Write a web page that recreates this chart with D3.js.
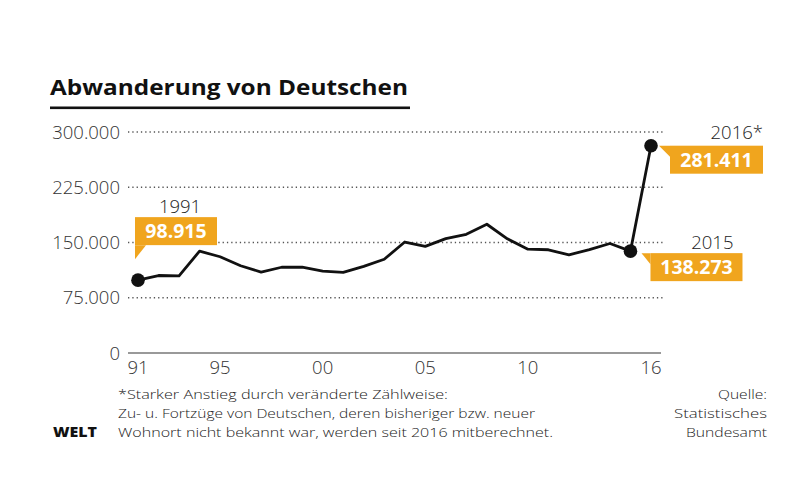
<!DOCTYPE html>
<html><head><meta charset="utf-8">
<script src="https://cdn.jsdelivr.net/npm/d3@7"></script>
<style>
html,body{margin:0;padding:0;background:#fff;}
svg{display:block;font-family:"Open Sans",Lato,sans-serif;}
</style></head>
<body>
<svg id="c" width="809" height="480"></svg>
<script>
const years = [1991,1992,1993,1994,1995,1996,1997,1998,1999,2000,2001,2002,2003,2004,2005,2006,2007,2008,2009,2010,2011,2012,2013,2014,2015,2016];
const values = [98915,105171,104653,138280,130672,118430,109903,116403,116410,111244,109507,117683,127267,150667,144815,155290,161105,174759,154988,141000,140132,133232,140282,148636,138273,281411];
const yTicks = [0,75000,150000,225000,300000];
const yTickLabels = ["0","75.000","150.000","225.000","300.000"];
const xTicks = [1991,1995,2000,2005,2010,2016];
const xTickLabels = ["91","95","00","05","10","16"];
const callouts = [
  {year:1991, value:98915, label:"98.915", yearLabel:"1991"},
  {year:2015, value:138273, label:"138.273", yearLabel:"2015"},
  {year:2016, value:281411, label:"281.411", yearLabel:"2016*"}
];
const title = "Abwanderung von Deutschen";
const footnote = ["*Starker Anstieg durch veränderte Zählweise:",
  "Zu- u. Fortzüge von Deutschen, deren bisheriger bzw. neuer",
  "Wohnort nicht bekannt war, werden seit 2016 mitberechnet."];
const source = ["Quelle:","Statistisches","Bundesamt"];

const ORANGE = "#f0a51e";
const svg = d3.select("#c");
const x = d3.scaleLinear().domain([1991,2016]).range([138,651]);
const y = d3.scaleLinear().domain([0,300000]).range([353,132]);

// title
svg.append("text").attr("x",50).attr("y",95).attr("font-size",22).attr("font-weight",700)
  .attr("fill","#111").attr("textLength",358).attr("lengthAdjust","spacingAndGlyphs").text(title);
svg.append("rect").attr("x",50).attr("y",106.5).attr("width",360).attr("height",2.6).attr("fill","#111");

// grid
const gGrid = svg.append("g");
gGrid.selectAll("line").data(yTicks.filter(d=>d>0)).join("line")
  .attr("x1",128).attr("x2",663).attr("y1",d=>y(d)).attr("y2",d=>y(d))
  .attr("stroke","#555").attr("stroke-width",1.3).attr("stroke-dasharray","1.3,3");
// baseline
svg.append("line").attr("x1",128).attr("x2",661).attr("y1",y(0)).attr("y2",y(0))
  .attr("stroke","#777").attr("stroke-width",1.5);

// y labels
svg.append("g").selectAll("text").data(yTicks).join("text")
  .attr("x",120).attr("y",d=>y(d)).attr("dy","0.36em").attr("text-anchor","end")
  .attr("font-size",18.5).attr("font-weight",300).attr("fill","#333")
  .text((d,i)=>yTickLabels[i]);

// x labels
svg.append("g").selectAll("text").data(xTicks).join("text")
  .attr("x",d=>x(d)).attr("y",367).attr("dy","0.36em").attr("text-anchor","middle")
  .attr("font-size",18.5).attr("font-weight",300).attr("fill","#333")
  .text((d,i)=>xTickLabels[i]);

// line
const line = d3.line().x((d,i)=>x(years[i])).y(d=>y(d));
svg.append("path").datum(values).attr("d",line).attr("fill","none")
  .attr("stroke","#111").attr("stroke-width",2.8).attr("stroke-linejoin","round");

// points
svg.append("g").selectAll("circle").data(callouts).join("circle")
  .attr("cx",d=>x(d.year)).attr("cy",d=>y(d.value)).attr("r",6.8).attr("fill","#111");

// callouts
function callout(c){
  const px = x(c.year), py = y(c.value);
  const g = svg.append("g");
  let bx, by, bw, bh=28, tail, tx, ty, anchor;
  if(c.year===1991){
    bw=82; bx=px-3; by=py-63;
    tail=[[bx,by+bh],[bx+11,by+bh],[bx,by+bh+14]];
    tx=bx+bw/2+4; ty=by-11; anchor="middle";
  } else if(c.year===2015){
    bw=92; bx=px+20; by=py+2;
    tail=[[bx-9,by],[bx,by],[bx,by+11]];
    tx=bx+83; ty=by-11; anchor="end";
  } else {
    bw=93; bx=px+19; by=py;
    tail=[[bx-11,by],[bx,by],[bx,by+11]];
    tx=bx+93; ty=by-13; anchor="end";
  }
  g.append("path").attr("d","M"+tail.map(p=>p.join(",")).join("L")+"Z").attr("fill",ORANGE);
  g.append("rect").attr("x",bx).attr("y",by).attr("width",bw).attr("height",bh).attr("fill",ORANGE);
  g.append("text").attr("x",bx+bw/2).attr("y",by+bh/2).attr("dy","0.36em").attr("text-anchor","middle")
    .attr("font-size",19.5).attr("font-weight",700).attr("fill","#fff").text(c.label);
  g.append("text").attr("x",tx).attr("y",ty).attr("dy","0.36em").attr("text-anchor",anchor)
    .attr("font-size",18.5).attr("font-weight",300).attr("fill","#222").text(c.yearLabel);
}
callouts.forEach(callout);

// footer (widths stretched to match the reference's wider typeface)
const footW = [330,417,435];
svg.append("g").selectAll("text").data(footnote).join("text")
  .attr("x",118).attr("y",(d,i)=>394+i*19).attr("dy","0.36em")
  .attr("font-size",13.5).attr("font-weight",300).attr("fill","#222")
  .attr("textLength",(d,i)=>footW[i]).attr("lengthAdjust","spacingAndGlyphs").text(d=>d);
const srcW = [49,93,81];
svg.append("g").selectAll("text").data(source).join("text")
  .attr("x",767).attr("y",(d,i)=>394+i*19).attr("dy","0.36em").attr("text-anchor","end")
  .attr("font-size",13.5).attr("font-weight",300).attr("fill","#222")
  .attr("textLength",(d,i)=>srcW[i]).attr("lengthAdjust","spacingAndGlyphs").text(d=>d);
svg.append("text").attr("x",53).attr("y",432).attr("dy","0.36em")
  .attr("font-size",14).attr("font-weight",800).attr("fill","#111")
  .attr("textLength",44).attr("lengthAdjust","spacingAndGlyphs").text("WELT");
</script>
</body></html>
